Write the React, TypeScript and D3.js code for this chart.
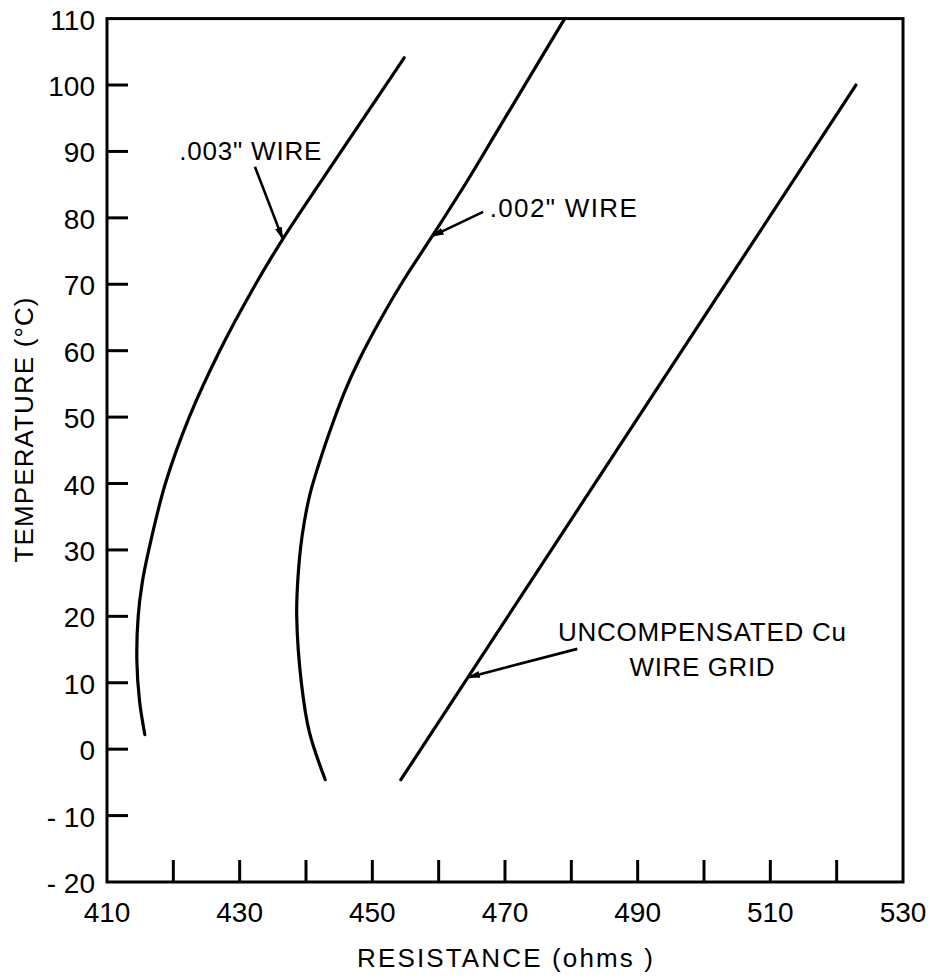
import React from "react";
import * as d3 from "d3";

// Data: [resistance (ohms), temperature (°C)]
const wire003: [number, number][] = [
  [415.7, 2.2], [414.9, 7.3], [414.5, 13.4], [414.7, 20], [415.3, 25], [416.3, 30],
  [418.8, 40], [422.4, 50], [427.0, 60], [432.4, 70], [436.5, 76.8], [445.3, 90], [454.8, 104.1],
];
const wire002: [number, number][] = [
  [442.9, -4.6], [440.5, 2.6], [439.3, 10], [438.6, 20], [438.8, 26], [439.4, 32],
  [440.5, 38], [441.8, 42.5], [444.0, 49], [445.9, 54], [448.0, 58.6], [451.4, 65],
  [454.7, 70.6], [459.0, 77.2], [464.4, 85.7], [469.2, 93.7], [479.0, 110],
];
const uncompensated: [number, number][] = [
  [454.3, -4.6], [522.9, 100],
];

const xTicks = [420, 430, 440, 450, 460, 470, 480, 490, 500, 510, 520];
const xLabels = [410, 430, 450, 470, 490, 510, 530];
const yTicks = [-10, 0, 10, 20, 30, 40, 50, 60, 70, 80, 90, 100];
const yLabels = [-20, -10, 0, 10, 20, 30, 40, 50, 60, 70, 80, 90, 100, 110];

// Annotations in data units
const arrows = [
  { tail: [432.3, 87.7], tip: [436.5, 76.8] },
  { tail: [466.7, 80.9], tip: [458.95, 77.2] },
  { tail: [480.9, 15.1], tip: [464.4, 10.8] },
];
const labels = [
  { text: '.003" WIRE', x: 420.9, y: 88.7, anchor: "start", len: 142 },
  { text: '.002" WIRE', x: 467.7, y: 80.2, anchor: "start", len: 147 },
  { text: "UNCOMPENSATED Cu", x: 499.7, y: 16.3, anchor: "middle", len: 288 },
  { text: "WIRE GRID", x: 499.7, y: 11.0, anchor: "middle", len: 145 },
];

const W = 930;
const H = 978;
const left = 107, right = 903, top = 18.6, bottom = 882;
const FONT = "'Liberation Sans', Arial, sans-serif";

export default function App() {
  const x = d3.scaleLinear().domain([410, 530]).range([left, right]);
  const y = d3.scaleLinear().domain([-20, 110]).range([bottom, top]);
  const line = d3
    .line<[number, number]>()
    .x((d) => x(d[0]))
    .y((d) => y(d[1]))
    .curve(d3.curveCatmullRom.alpha(0.5));

  const fmt = (v: number) => (v < 0 ? `- ${Math.abs(v)}` : `${v}`);

  return (
    <svg
      width={W}
      height={H}
      style={{ position: "absolute", left: 0, top: 0, background: "#fff" }}
      fontFamily={FONT}
    >
      <defs>
        <marker
          id="ah"
          markerUnits="userSpaceOnUse"
          markerWidth={14}
          markerHeight={10}
          refX={12}
          refY={4}
          orient="auto"
        >
          <path d="M0,0.5 L13,4 L0,7.5 Z" fill="#000" />
        </marker>
      </defs>
      <rect x={0} y={0} width={W} height={H} fill="#fff" />
      {/* frame */}
      <rect
        x={left}
        y={top}
        width={right - left}
        height={bottom - top}
        fill="none"
        stroke="#000"
        strokeWidth={3}
      />
      {/* y ticks */}
      {yTicks.map((t) => (
        <line key={"yt" + t} x1={left} x2={left + 21} y1={y(t)} y2={y(t)} stroke="#000" strokeWidth={3} />
      ))}
      {/* x ticks */}
      {xTicks.map((t) => (
        <line key={"xt" + t} x1={x(t)} x2={x(t)} y1={bottom} y2={bottom - 22} stroke="#000" strokeWidth={3} />
      ))}
      {/* y labels */}
      {yLabels.map((t) => (
        <text key={"yl" + t} x={95} y={y(t) + 11} textAnchor="end" fontSize={28} fill="#000">
          {fmt(t)}
        </text>
      ))}
      {/* x labels */}
      {xLabels.map((t) => (
        <text key={"xl" + t} x={x(t)} y={922} textAnchor="middle" fontSize={28} fill="#000">
          {t}
        </text>
      ))}
      {/* axis titles */}
      <text x={505} y={967} textAnchor="middle" fontSize={26} fill="#000" textLength={296} lengthAdjust="spacing">
        {"RESISTANCE  (ohms )"}
      </text>
      <text
        transform={`translate(33, 430) rotate(-90)`}
        textAnchor="middle"
        fontSize={26}
        fill="#000"
        textLength={265}
        lengthAdjust="spacing"
      >
        {"TEMPERATURE  (°C)"}
      </text>
      {/* curves */}
      {[wire003, wire002, uncompensated].map((s, i) => (
        <path key={"c" + i} d={line(s) || ""} fill="none" stroke="#000" strokeWidth={3.2} strokeLinecap="round" />
      ))}
      {/* arrows */}
      {arrows.map((a, i) => (
        <line
          key={"a" + i}
          x1={x(a.tail[0])}
          y1={y(a.tail[1])}
          x2={x(a.tip[0])}
          y2={y(a.tip[1])}
          stroke="#000"
          strokeWidth={2.6}
          markerEnd="url(#ah)"
        />
      ))}
      {/* labels */}
      {labels.map((l, i) => (
        <text
          key={"l" + i}
          x={x(l.x)}
          y={y(l.y)}
          textAnchor={l.anchor as any}
          fontSize={26}
          fill="#000"
          textLength={l.len}
          lengthAdjust="spacing"
        >
          {l.text}
        </text>
      ))}
    </svg>
  );
}
